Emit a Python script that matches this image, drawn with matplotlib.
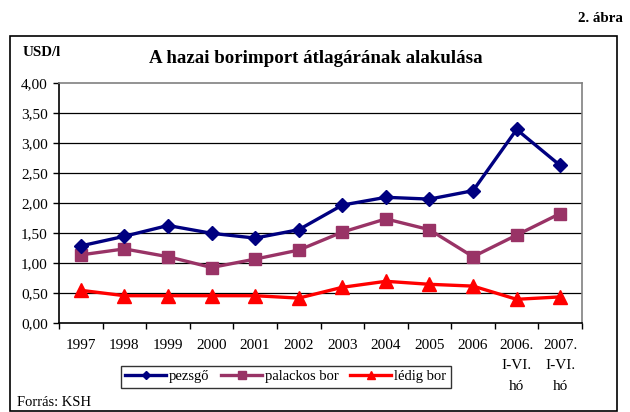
import matplotlib
matplotlib.use("Agg")
import matplotlib.pyplot as plt
from matplotlib.patches import Rectangle

categories = ["1997", "1998", "1999", "2000", "2001", "2002", "2003", "2004",
              "2005", "2006", "2006.\nI-VI.\nhó", "2007.\nI-VI.\nhó"]
pezsgo = [1.29, 1.45, 1.63, 1.50, 1.42, 1.56, 1.97, 2.10, 2.07, 2.21, 3.23, 2.63]
palackos = [1.14, 1.24, 1.11, 0.93, 1.07, 1.22, 1.52, 1.74, 1.56, 1.11, 1.47, 1.83]
ledig = [0.55, 0.46, 0.46, 0.46, 0.46, 0.42, 0.60, 0.70, 0.65, 0.62, 0.40, 0.44]
yticks = [0, 0.5, 1.0, 1.5, 2.0, 2.5, 3.0, 3.5, 4.0]
ytick_labels = ["0,00", "0,50", "1,00", "1,50", "2,00", "2,50", "3,00", "3,50", "4,00"]

W, H = 630, 412
fig = plt.figure(figsize=(W / 100, H / 100), dpi=100)
serif = "Liberation Serif"

def fx(px):
    return px / W

def fy(py):
    return 1 - py / H

# outer frame
fig.patches.append(Rectangle((fx(10), fy(411)), fx(617.5) - fx(10), fy(36) - fy(411),
                             transform=fig.transFigure, fill=False, edgecolor="black",
                             linewidth=1.2))

ax = fig.add_axes([fx(59), fy(323.3), fx(582) - fx(59), fy(83.3) - fy(323.3)])
x = list(range(len(categories)))

ax.plot(x, pezsgo, color="#000080", linewidth=2.4, marker="D", markersize=7.5,
        label="pezsgő", zorder=5)
ax.plot(x, palackos, color="#993366", linewidth=2.4, marker="s", markersize=9,
        label="palackos bor", zorder=4)
ax.plot(x, ledig, color="#FF0000", linewidth=2.4, marker="^", markersize=9.5,
        label="lédig bor", zorder=3)

ax.set_xlim(-0.5, len(categories) - 0.5)
ax.set_ylim(0, 4.0)
ax.set_yticks(yticks)
ax.set_yticklabels(ytick_labels, fontfamily=serif, fontsize=11)
for yv in yticks[1:-1]:
    ax.axhline(yv, color="black", linewidth=0.9, zorder=1)

# x ticks at category boundaries, labels at centers
ax.set_xticks([i - 0.5 for i in range(len(categories) + 1)])
ax.set_xticklabels([])
ax.set_xticks(x, minor=True)
ax.set_xticklabels(categories, minor=True, fontfamily=serif, fontsize=11,
                   linespacing=1.75, va="top")
ax.tick_params(axis="x", which="minor", length=0, pad=11)
ax.tick_params(axis="x", which="major", length=4, direction="out", width=1)
ax.tick_params(axis="y", length=4, direction="out", width=1, pad=4)

for s in ["left", "bottom"]:
    ax.spines[s].set_color("black")
    ax.spines[s].set_linewidth(1.2)
for s in ["top", "right"]:
    ax.spines[s].set_color("#808080")
    ax.spines[s].set_linewidth(1.2)

leg = fig.legend(loc="lower left", bbox_to_anchor=(fx(121), fy(387.5)), ncol=3,
                 prop={"family": serif, "size": 10.5}, frameon=True, fancybox=False,
                 edgecolor="black", handlelength=2.8, handletextpad=0.2,
                 columnspacing=0.8, borderpad=0.3, borderaxespad=0,
                 markerscale=0.6)
leg.get_frame().set_linewidth(1.0)

fig.text(fx(316), fy(58.5), "A hazai borimport átlagárának alakulása", ha="center",
         va="center", fontfamily=serif, fontweight="bold", fontsize=13.6)
fig.text(fx(23), fy(52), "USD/l", ha="left", va="center", fontfamily=serif,
         fontweight="bold", fontsize=10.8)
fig.text(fx(623), fy(19), "2. ábra", ha="right", va="center", fontfamily=serif,
         fontweight="bold", fontsize=10.8)
fig.text(fx(17), fy(402), "Forrás: KSH", ha="left", va="center",
         fontfamily=serif, fontsize=10.5)

fig.savefig("out.png", dpi=100)
